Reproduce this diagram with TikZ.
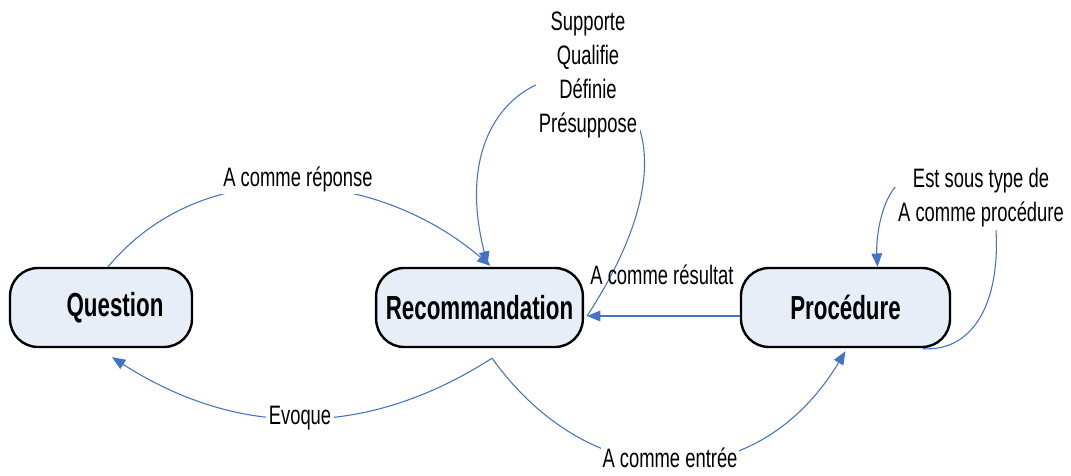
\documentclass[tikz,border=0pt]{standalone}
\usepackage{fontspec}
\setmainfont{Liberation Sans}
\newfontfamily\labelfont{Liberation Sans}[FakeStretch=0.69]
\newfontfamily\boxfont{Liberation Sans}[FakeStretch=0.67]
\usetikzlibrary{calc,arrows.meta}
\definecolor{boxfill}{RGB}{232,238,248}
\definecolor{edgeblue}{RGB}{68,114,196}
\tikzset{
  conceptbox/.style={draw=black, line width=1.8pt, fill=boxfill, rounded corners=21pt,
    minimum height=59.25pt, inner sep=0pt, font=\boxfont\bfseries\fontsize{25}{28}\selectfont},
  lbl/.style={font=\labelfont\fontsize{20}{25.5}\selectfont, inner sep=2pt, align=center},
  lblw/.style={lbl, fill=white},
  link/.style={draw=edgeblue, line width=0.8pt},
  linkarrow/.style={link, -{Triangle[length=10pt,width=8pt]}, edgeblue},
}
\begin{document}
\begin{tikzpicture}[x=0.75pt,y=-0.75pt]
\useasboundingbox (0,0) rectangle (1071,475);

\node[conceptbox, minimum width=136.5pt] (Q) at (101,307.5) {\hspace*{21pt}Question};
\node[conceptbox, minimum width=155pt] (R) at (479.5,307.5) {Recommandation};
\node[conceptbox, minimum width=156.75pt] (P) at (845.5,307.5) {Procédure};

\coordinate (Rbot) at ($(R.south)+(12.5,10)$);
\coordinate (Rtop) at ($(R.north)+(8,-2)$);
\coordinate (Reast) at ($(R.east)+(3,8.5)$);

% A comme reponse
\draw[linkarrow] ($(Q.north)+(7,0)$) .. controls (204,152) and (377,169) .. ($(R.north)+(11,-1)$);
% Supporte loop
\draw[linkarrow] (Reast) .. controls (780,20) and (420,0) .. (Rtop);
% A comme resultat
\draw[linkarrow] ($(P.west)+(0,8.5)$) -- (Reast);
% Evoque
\draw[linkarrow] (Rbot) .. controls (366,439) and (238,438) .. ($(Q.south)+(11,9)$);
% A comme entree
\draw[linkarrow] (Rbot) .. controls (592,497) and (757,498) .. ($(P.south)+(0,3)$);

% labels
\node[lblw] (lrep) at (298,179) {A comme réponse};
\node[lblw] (lsup) at (588,75) {Supporte\\Qualifie\\Définie\\Présuppose};
\node[lbl] (lres) at (662,275) {A comme résultat};
\node[lblw] (lest) at (981,198) {Est sous type de\\A comme procédure};
\node[lblw] (levo) at (300,418) {Evoque};
\node[lblw, inner sep=1pt] (lent) at (670,458) {A comme entrée};

% Procedure self loop
\draw[link] ($(P.south)+(77,0.5)$) .. controls (975,352) and (1000,300) .. ($(lest.south)+(15,0)$);
\draw[linkarrow] ($(lest.west)+(0,-11)$) .. controls (880,205) and (876,240) .. ($(P.north)+(32,0)$);
\end{tikzpicture}
\end{document}
